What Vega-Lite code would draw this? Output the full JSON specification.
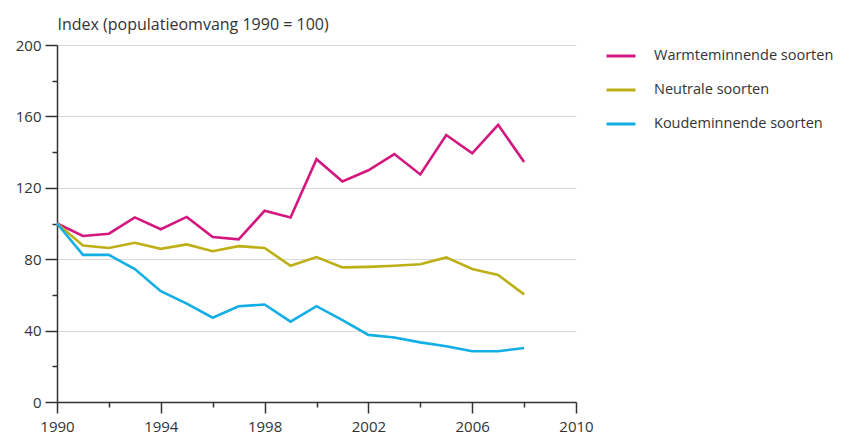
{
  "$schema": "https://vega.github.io/schema/vega-lite/v6.json",
  "autosize": {"type": "none"},
  "padding": {"left": 57, "top": 45, "right": 285, "bottom": 35},
  "width": 519,
  "height": 357,
  "background": "white",
  "config": {
    "font": "Open Sans",
    "view": {"stroke": null},
    "axis": {"labelFont": "Open Sans", "titleFont": "Open Sans", "labelColor": "#333", "titleColor": "#333"}
  },
  "data": {
    "values": [
      {"year": 1990, "series": "Warmteminnende soorten", "value": 100},
      {"year": 1991, "series": "Warmteminnende soorten", "value": 93},
      {"year": 1992, "series": "Warmteminnende soorten", "value": 94.3},
      {"year": 1993, "series": "Warmteminnende soorten", "value": 103.4},
      {"year": 1994, "series": "Warmteminnende soorten", "value": 96.8},
      {"year": 1995, "series": "Warmteminnende soorten", "value": 103.7},
      {"year": 1996, "series": "Warmteminnende soorten", "value": 92.4},
      {"year": 1997, "series": "Warmteminnende soorten", "value": 91.1},
      {"year": 1998, "series": "Warmteminnende soorten", "value": 107.1},
      {"year": 1999, "series": "Warmteminnende soorten", "value": 103.4},
      {"year": 2000, "series": "Warmteminnende soorten", "value": 136},
      {"year": 2001, "series": "Warmteminnende soorten", "value": 123.5},
      {"year": 2002, "series": "Warmteminnende soorten", "value": 129.8},
      {"year": 2003, "series": "Warmteminnende soorten", "value": 138.9},
      {"year": 2004, "series": "Warmteminnende soorten", "value": 127.5},
      {"year": 2005, "series": "Warmteminnende soorten", "value": 149.6},
      {"year": 2006, "series": "Warmteminnende soorten", "value": 139.3},
      {"year": 2007, "series": "Warmteminnende soorten", "value": 155.3},
      {"year": 2008, "series": "Warmteminnende soorten", "value": 134.5},
      {"year": 1990, "series": "Neutrale soorten", "value": 100},
      {"year": 1991, "series": "Neutrale soorten", "value": 87.7},
      {"year": 1992, "series": "Neutrale soorten", "value": 86.3},
      {"year": 1993, "series": "Neutrale soorten", "value": 89.2},
      {"year": 1994, "series": "Neutrale soorten", "value": 85.8},
      {"year": 1995, "series": "Neutrale soorten", "value": 88.3},
      {"year": 1996, "series": "Neutrale soorten", "value": 84.5},
      {"year": 1997, "series": "Neutrale soorten", "value": 87.3},
      {"year": 1998, "series": "Neutrale soorten", "value": 86.3},
      {"year": 1999, "series": "Neutrale soorten", "value": 76.3},
      {"year": 2000, "series": "Neutrale soorten", "value": 81.2},
      {"year": 2001, "series": "Neutrale soorten", "value": 75.4},
      {"year": 2002, "series": "Neutrale soorten", "value": 75.7},
      {"year": 2003, "series": "Neutrale soorten", "value": 76.3},
      {"year": 2004, "series": "Neutrale soorten", "value": 77.2},
      {"year": 2005, "series": "Neutrale soorten", "value": 81},
      {"year": 2006, "series": "Neutrale soorten", "value": 74.5},
      {"year": 2007, "series": "Neutrale soorten", "value": 71.2},
      {"year": 2008, "series": "Neutrale soorten", "value": 60.3},
      {"year": 1990, "series": "Koudeminnende soorten", "value": 100},
      {"year": 1991, "series": "Koudeminnende soorten", "value": 82.4},
      {"year": 1992, "series": "Koudeminnende soorten", "value": 82.4},
      {"year": 1993, "series": "Koudeminnende soorten", "value": 74.5},
      {"year": 1994, "series": "Koudeminnende soorten", "value": 62.1},
      {"year": 1995, "series": "Koudeminnende soorten", "value": 55.1},
      {"year": 1996, "series": "Koudeminnende soorten", "value": 47.2},
      {"year": 1997, "series": "Koudeminnende soorten", "value": 53.6},
      {"year": 1998, "series": "Koudeminnende soorten", "value": 54.6},
      {"year": 1999, "series": "Koudeminnende soorten", "value": 45},
      {"year": 2000, "series": "Koudeminnende soorten", "value": 53.7},
      {"year": 2001, "series": "Koudeminnende soorten", "value": 45.9},
      {"year": 2002, "series": "Koudeminnende soorten", "value": 37.6},
      {"year": 2003, "series": "Koudeminnende soorten", "value": 36.1},
      {"year": 2004, "series": "Koudeminnende soorten", "value": 33.4},
      {"year": 2005, "series": "Koudeminnende soorten", "value": 31.2},
      {"year": 2006, "series": "Koudeminnende soorten", "value": 28.4},
      {"year": 2007, "series": "Koudeminnende soorten", "value": 28.4},
      {"year": 2008, "series": "Koudeminnende soorten", "value": 30.3}
    ]
  },
  "mark": {"type": "line", "strokeWidth": 2.6, "clip": false},
  "encoding": {
    "x": {
      "field": "year",
      "type": "quantitative",
      "scale": {"domain": [1990, 2010], "nice": false, "zero": false},
      "axis": {
        "title": null,
        "values": [1990, 1992, 1994, 1996, 1998, 2000, 2002, 2004, 2006, 2008, 2010],
        "format": "d",
        "labelExpr": "datum.value % 4 === 2 ? datum.label : ''",
        "grid": false,
        "domainColor": "#333",
        "domainWidth": 1.5,
        "tickColor": "#333",
        "tickWidth": 1.5,
        "tickSize": {"condition": {"test": "datum.value % 4 === 2", "value": 11}, "value": 5},
        "labelPadding": 6,
        "labelFontSize": 15,
        "labelFlush": false,
        "labelOverlap": false
      }
    },
    "y": {
      "field": "value",
      "type": "quantitative",
      "scale": {"domain": [0, 200], "nice": false},
      "axis": {
        "title": "Index (populatieomvang 1990 = 100)",
        "titleAngle": 0,
        "titleAlign": "left",
        "titleX": 0,
        "titleY": -16,
        "titleBaseline": "alphabetic",
        "titleFontSize": 16,
        "titleFontWeight": "normal",
        "values": [0, 20, 40, 60, 80, 100, 120, 140, 160, 180, 200],
        "labelExpr": "datum.value % 40 === 0 ? datum.label : ''",
        "grid": true,
        "gridColor": "#d9d9d9",
        "gridWidth": 1.2,
        "gridOpacity": {"condition": {"test": "datum.value % 40 === 0 && datum.value > 0", "value": 1}, "value": 0},
        "domainColor": "#333",
        "domainWidth": 1.5,
        "tickColor": "#333",
        "tickWidth": 1.5,
        "tickSize": {"condition": {"test": "datum.value % 40 === 0", "value": 12}, "value": 5},
        "labelPadding": 4,
        "labelFontSize": 15,
        "labelFlush": false,
        "labelOverlap": false
      }
    },
    "color": {
      "field": "series",
      "type": "nominal",
      "sort": ["Warmteminnende soorten", "Neutrale soorten", "Koudeminnende soorten"],
      "scale": {
        "domain": ["Warmteminnende soorten", "Neutrale soorten", "Koudeminnende soorten"],
        "range": ["#d4177f", "#bdb016", "#12aee6"]
      },
      "legend": {
        "title": null,
        "orient": "none",
        "legendX": 548,
        "legendY": -5,
        "symbolType": "stroke",
        "symbolSize": 841,
        "symbolStrokeWidth": 3,
        "labelFontSize": 14.5,
        "labelFont": "Open Sans",
        "labelColor": "#333",
        "labelLimit": 400,
        "labelOffset": 17,
        "rowPadding": 11
      }
    }
  }
}
